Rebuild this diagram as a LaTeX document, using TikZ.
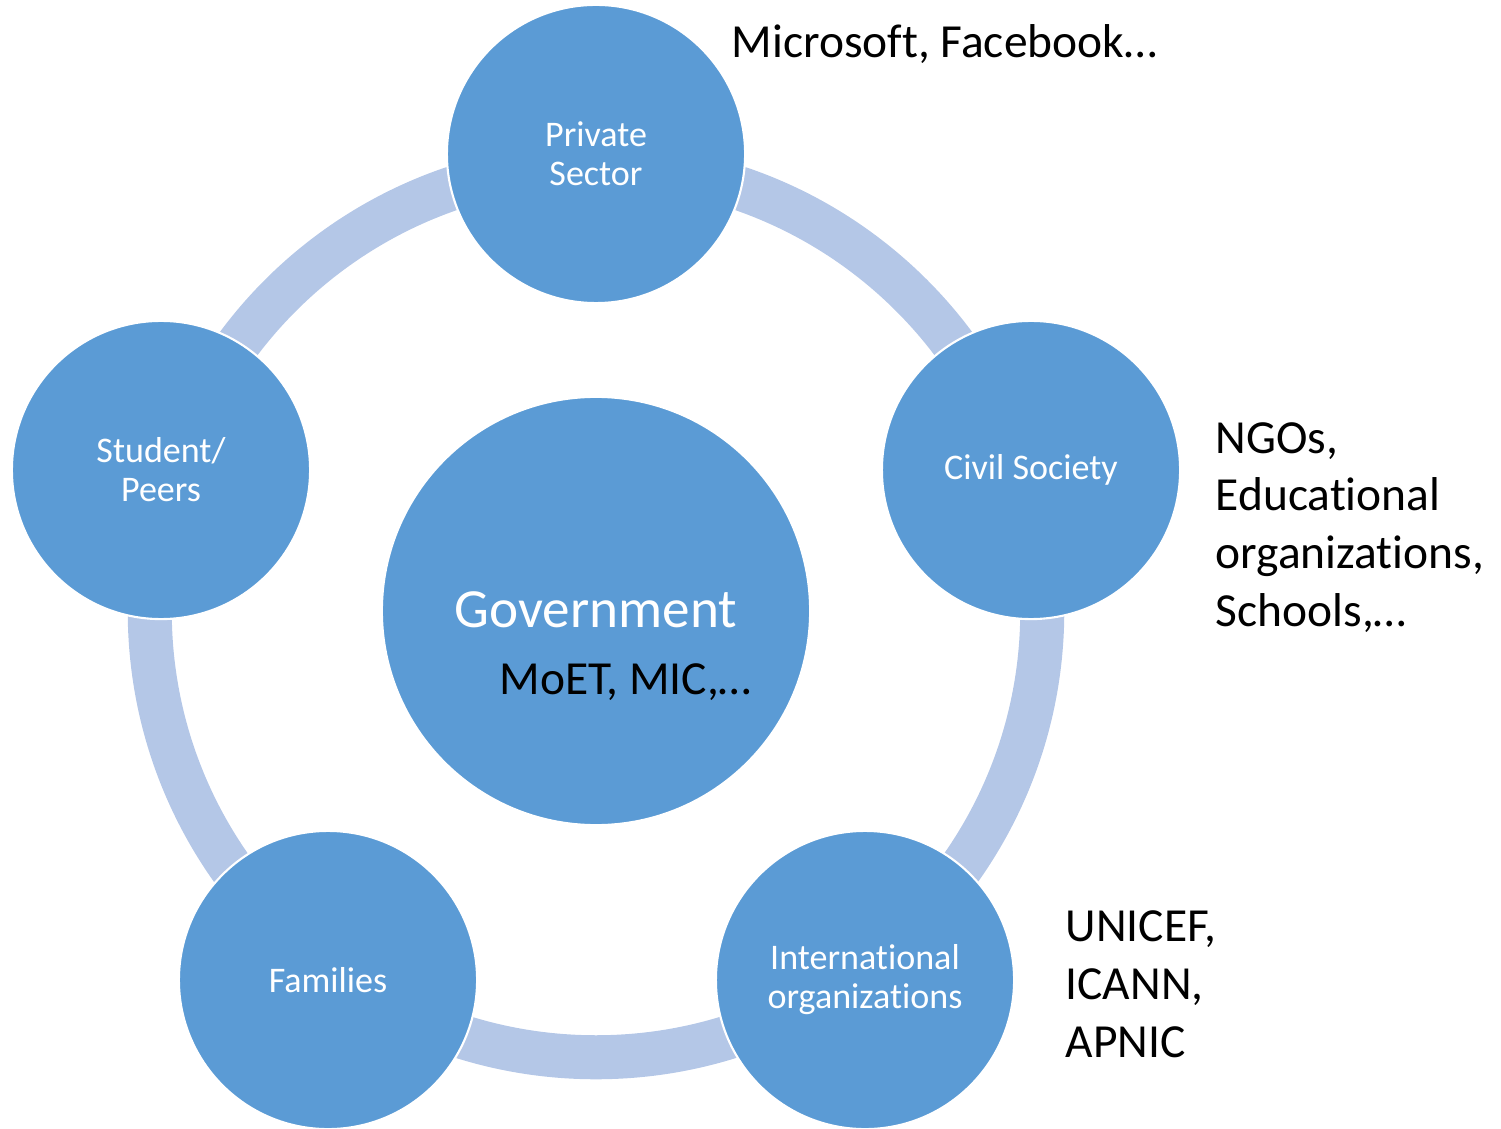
\documentclass[tikz,border=0pt]{standalone}
\usepackage{fontspec}
\setmainfont{Carlito}[Ligatures={NoCommon,NoContextual}]
\definecolor{fillblue}{HTML}{5B9BD5}
\definecolor{ringblue}{HTML}{B4C7E7}
\tikzset{
    actor/.style={circle, fill=fillblue, draw=white, line width=0.6pt, minimum size=2.98cm, inner sep=0pt, text=white, align=center, font=\fontsize{10.25}{11.1}\selectfont},
    core/.style={circle, fill=fillblue, draw=white, line width=0.6pt, minimum size=4.28cm, inner sep=0pt},
    note/.style={anchor=base west, inner sep=0pt, align=left, font=\fontsize{13.5}{16.36}\selectfont},
    ring/.style={draw=ringblue, line width=0.44cm}
}
\begin{document}
\begin{tikzpicture}[x=0.01cm, y=-0.01cm]
        \useasboundingbox (0,0) rectangle (1501,1128);

        \coordinate (hub) at (596, 611);
        \draw[ring] (hub) circle[radius=4.46cm];

        \node[core] at (hub)        (gov)      {};
        \node[actor] at (596, 154)  (private)  {Private\\Sector};
        \node[actor] at (1031, 470) (civil)    {Civil Society};
        \node[actor] at (865, 980)  (intl)     {International\\organizations};
        \node[actor] at (328, 980)  (families) {Families};
        \node[actor] at (161, 470)  (peers)    {Student/\\Peers};

        % base west of a multi-line note sits on its last line
        \node[anchor=base, inner sep=0pt, text=white, font=\fontsize{15.7}{18}\selectfont] at (596, 627) (gov_name) {Government};
        \node[note] at (499, 694)  (gov_note)     {MoET, MIC,\dots};
        \node[note] at (731, 58)   (private_note) {Microsoft, Facebook\dots};
        \node[note] at (1215, 626) (civil_note)   {NGOs,\\Educational\\organizations,\\Schools,\dots};
        \node[note] at (1065, 1057) (intl_note)   {UNICEF,\\ICANN,\\APNIC};
    \end{tikzpicture}
\end{document}
